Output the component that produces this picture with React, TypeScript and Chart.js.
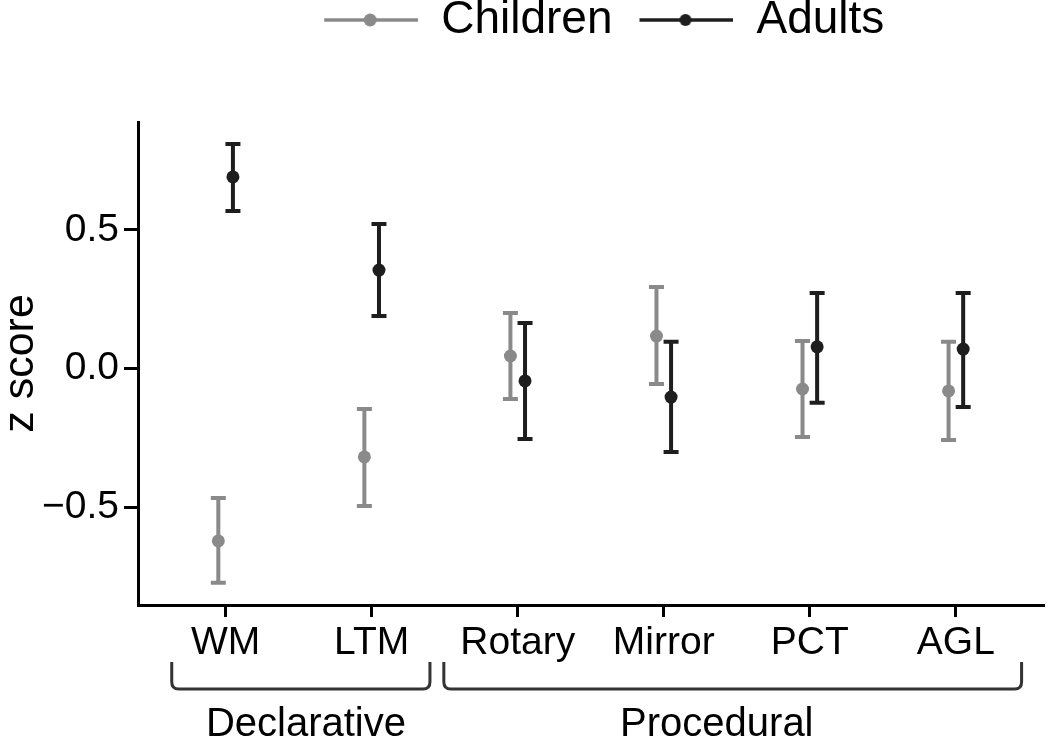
import React, { useEffect, useRef } from "react";
import { Chart, registerables, layouts } from "chart.js";

Chart.register(...registerables);

// ---------- data ----------
const categories = ["WM", "LTM", "Rotary", "Mirror", "PCT", "AGL"];
const seriesNames = ["Children", "Adults"];
const childrenMean = [-0.622, -0.319, 0.045, 0.117, -0.074, -0.081];
const childrenLower = [-0.773, -0.496, -0.11, -0.056, -0.247, -0.258];
const childrenUpper = [-0.467, -0.146, 0.2, 0.294, 0.099, 0.096];
const adultsMean = [0.691, 0.355, -0.045, -0.103, 0.078, 0.07];
const adultsLower = [0.568, 0.189, -0.254, -0.301, -0.124, -0.139];
const adultsUpper = [0.81, 0.521, 0.164, 0.096, 0.272, 0.272];
const yTickValues = [-0.5, 0, 0.5];
const yTickLabels = ["\u22120.5", "0.0", "0.5"];
const groupNames = ["Declarative", "Procedural"];
const yAxisTitle = "z score";

// ---------- layout / style ----------
const FONT = "'Liberation Sans', Arial, Helvetica, sans-serif";
const CHILD_COLOR = "#8a8a8a";
const ADULT_COLOR = "#1e1e1e";
const DODGE = 0.05;
const X_MIN = -0.6;
const X_MAX = categories.length - 0.4;
const Y_MIN = -0.853;
const Y_MAX = 0.889;
// bracket extents / label anchor in category units
const BRACKETS = [
  { from: -0.369, to: 1.399, labelAt: 0.55 },
  { from: 1.494, to: 5.45, labelAt: 3.363 },
];

function makeKey(color: string, dotR: number): HTMLCanvasElement {
  const c = document.createElement("canvas");
  c.width = 121;
  c.height = 20;
  const ctx = c.getContext("2d")!;
  ctx.strokeStyle = color;
  ctx.lineWidth = 3.5;
  ctx.beginPath();
  ctx.moveTo(27, 10);
  ctx.lineTo(121, 10);
  ctx.stroke();
  ctx.fillStyle = color;
  ctx.beginPath();
  ctx.arc(73, 10, dotR, 0, Math.PI * 2);
  ctx.fill();
  return c;
}

const spacerPlugin = {
  id: "legendSpacer",
  beforeInit(chart: any) {
    const box: any = {
      position: "top",
      weight: 500,
      fullSize: false,
      options: {},
      left: 0,
      top: 0,
      right: 0,
      bottom: 0,
      width: 0,
      height: 0,
      isHorizontal: () => true,
      update(maxWidth: number) {
        box.width = maxWidth;
        box.height = 69;
      },
      draw() {},
    };
    layouts.addBox(chart, box);
  },
};

const errorBarPlugin = {
  id: "errorBars",
  beforeDatasetsDraw(chart: any) {
    const { ctx, scales } = chart;
    const x = scales.x;
    const y = scales.y;
    chart.data.datasets.forEach((ds: any) => {
      ctx.save();
      ctx.strokeStyle = ds.backgroundColor;
      ctx.lineWidth = 4;
      ds.data.forEach((pt: any, i: number) => {
        const px = x.getPixelForValue(pt.x);
        const yl = y.getPixelForValue(ds.errLower[i]);
        const yu = y.getPixelForValue(ds.errUpper[i]);
        ctx.beginPath();
        ctx.moveTo(px, yl);
        ctx.lineTo(px, yu);
        ctx.moveTo(px - 7.5, yl);
        ctx.lineTo(px + 7.5, yl);
        ctx.moveTo(px - 7.5, yu);
        ctx.lineTo(px + 7.5, yu);
        ctx.stroke();
      });
      ctx.restore();
    });
  },
};

const bracketPlugin = {
  id: "groupBrackets",
  afterDraw(chart: any) {
    const { ctx, chartArea } = chart;
    const x = chart.scales.x;
    const yTop = chartArea.bottom + 57;
    const yBot = chartArea.bottom + 84;
    const r = 7;
    ctx.save();
    ctx.strokeStyle = "#333333";
    ctx.lineWidth = 3;
    BRACKETS.forEach((b, i) => {
      const xa = x.getPixelForValue(b.from);
      const xb = x.getPixelForValue(b.to);
      ctx.beginPath();
      ctx.moveTo(xa, yTop);
      ctx.lineTo(xa, yBot - r);
      ctx.quadraticCurveTo(xa, yBot, xa + r, yBot);
      ctx.lineTo(xb - r, yBot);
      ctx.quadraticCurveTo(xb, yBot, xb, yBot - r);
      ctx.lineTo(xb, yTop);
      ctx.stroke();
      ctx.fillStyle = "#000";
      ctx.font = `40px ${FONT}`;
      ctx.textAlign = "center";
      ctx.textBaseline = "alphabetic";
      ctx.fillText(groupNames[i], x.getPixelForValue(b.labelAt), chartArea.bottom + 131);
    });
    ctx.restore();
  },
};

export default function App() {
  const ref = useRef<HTMLCanvasElement | null>(null);

  useEffect(() => {
    if (!ref.current) return;
    const keys = [makeKey(CHILD_COLOR, 6.5), makeKey(ADULT_COLOR, 6)];
    const chart = new Chart(ref.current, {
      type: "scatter",
      data: {
        datasets: [
          {
            label: seriesNames[0],
            data: childrenMean.map((v, i) => ({ x: i - DODGE, y: v })),
            errLower: childrenLower,
            errUpper: childrenUpper,
            backgroundColor: CHILD_COLOR,
            borderWidth: 0,
            pointRadius: 6.5,
          } as any,
          {
            label: seriesNames[1],
            data: adultsMean.map((v, i) => ({ x: i + DODGE, y: v })),
            errLower: adultsLower,
            errUpper: adultsUpper,
            backgroundColor: ADULT_COLOR,
            borderWidth: 0,
            pointRadius: 6.5,
          } as any,
        ],
      },
      options: {
        responsive: false,
        maintainAspectRatio: false,
        animation: false,
        events: [],
        layout: { padding: { top: -3, left: 0, right: 0, bottom: 0 } },
        plugins: {
          tooltip: { enabled: false },
          legend: {
            display: true,
            position: "top",
            fullSize: false,
            labels: {
              usePointStyle: true,
              pointStyleWidth: 121,
              padding: 0,
              color: "#000",
              font: { family: FONT, size: 46 },
              generateLabels: (c: any) =>
                c.data.datasets.map((ds: any, i: number) => ({
                  text: ds.label,
                  pointStyle: keys[i],
                  fillStyle: "transparent",
                  strokeStyle: "transparent",
                  lineWidth: 0,
                  hidden: false,
                  datasetIndex: i,
                })),
            },
          },
        },
        scales: {
          x: {
            type: "linear",
            min: X_MIN,
            max: X_MAX,
            afterBuildTicks: (scale: any) => {
              scale.ticks = categories.map((_, i) => ({ value: i }));
            },
            afterFit: (scale: any) => {
              scale.height = 133;
            },
            ticks: {
              autoSkip: false,
              maxRotation: 0,
              padding: 3,
              color: "#000",
              font: { family: FONT, size: 39 },
              callback: (v: any) => categories[v as number],
            },
            grid: {
              display: true,
              drawOnChartArea: false,
              drawTicks: true,
              tickLength: 12,
              color: "#000",
              lineWidth: 3,
            },
            border: { display: true, color: "#000", width: 3 },
          },
          y: {
            type: "linear",
            min: Y_MIN,
            max: Y_MAX,
            afterBuildTicks: (scale: any) => {
              scale.ticks = yTickValues.map((v) => ({ value: v }));
            },
            afterFit: (scale: any) => {
              scale.width = 138;
            },
            ticks: {
              padding: 5,
              color: "#000",
              font: { family: FONT, size: 39 },
              callback: (v: any) => yTickLabels[yTickValues.indexOf(v as number)],
            },
            grid: {
              display: true,
              drawOnChartArea: false,
              drawTicks: true,
              tickLength: 14,
              color: "#000",
              lineWidth: 3,
            },
            border: { display: true, color: "#000", width: 3 },
            title: {
              display: true,
              text: yAxisTitle,
              color: "#000",
              font: { family: FONT, size: 43, lineHeight: 1 },
              padding: { top: 0, bottom: 0 },
            },
          },
        },
      } as any,
      plugins: [spacerPlugin, errorBarPlugin, bracketPlugin],
    });
    return () => chart.destroy();
  }, []);

  return (
    <div style={{ position: "absolute", left: 0, top: 0, width: 1050, height: 738, background: "#fff" }}>
      <canvas ref={ref} width={1050} height={738} style={{ display: "block" }} />
    </div>
  );
}
